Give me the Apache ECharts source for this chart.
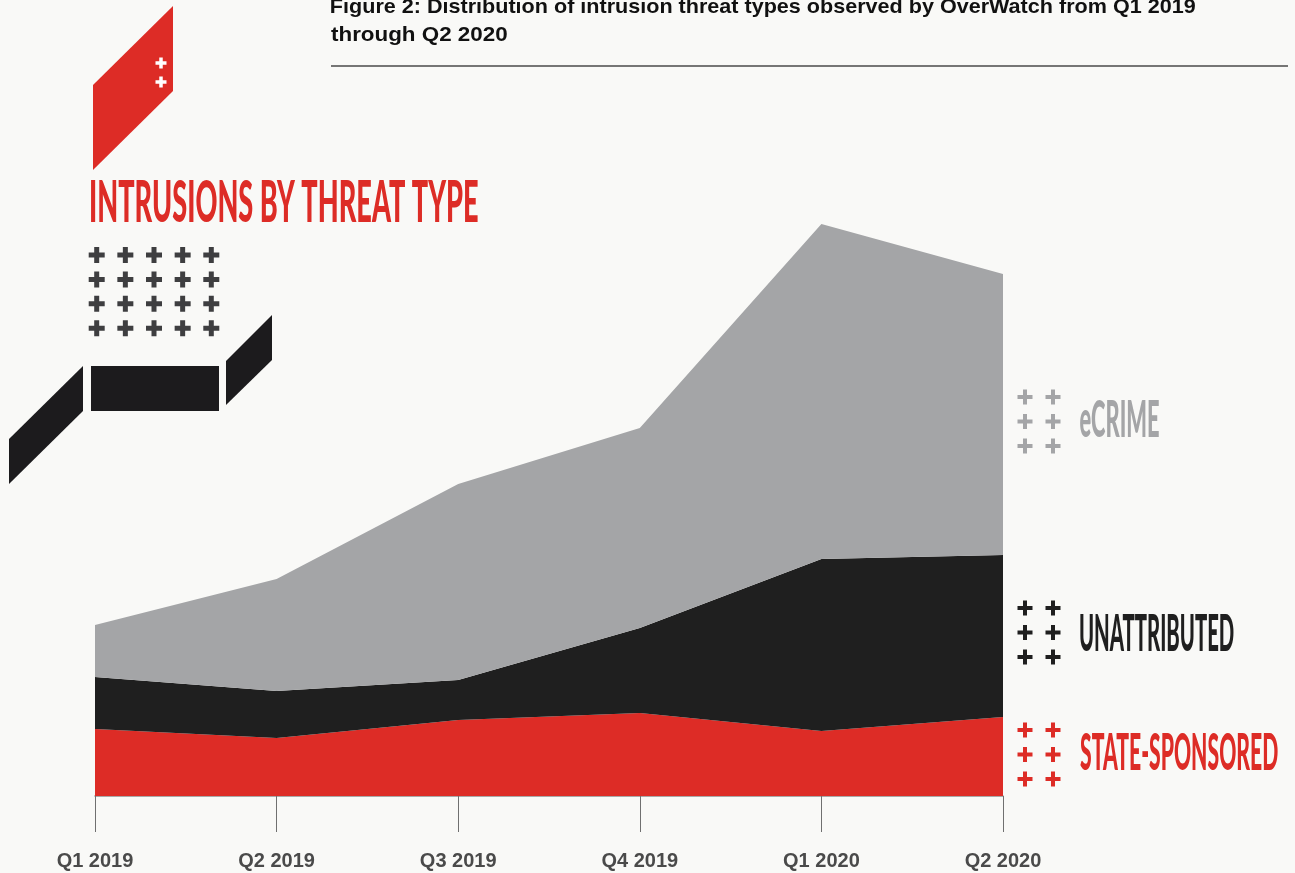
<!DOCTYPE html>
<html>
<head>
<meta charset="utf-8">
<script src="https://cdn.jsdelivr.net/npm/echarts@6/dist/echarts.min.js"></script>
<style>
  html, body { margin: 0; padding: 0; background: #f9f9f7; }
  #chart { width: 1295px; height: 873px; }
</style>
</head>
<body>
<div id="chart"></div>
<script>
// Quarterly intrusion counts by threat type (stacked)
const categories = ['Q1 2019', 'Q2 2019', 'Q3 2019', 'Q4 2019', 'Q1 2020', 'Q2 2020'];
const stateSponsored = [67, 58, 76, 83, 65, 79];
const unattributed = [52, 47, 40, 85, 172, 162];
const eCrime = [52, 112, 196, 200, 335, 281];
const seriesNames = ['STATE-SPONSORED', 'UNATTRIBUTED', 'eCRIME'];

const titleText = 'INTRUSIONS BY THREAT TYPE';
const captionLines = [
  'Figure 2: Distribution of intrusion threat types observed by OverWatch from Q1 2019',
  'through Q2 2020'
];

const RED = '#dd2c26';
const BLACK = '#1f1f1f';
const GREY = '#a4a5a7';

// Fit a single-line text into a box defined by its ink left edge, width,
// cap-height top and cap height, using canvas metrics for the given font.
const measureCtx = document.createElement('canvas').getContext('2d');
function fitText(text, font, left, width, capTop, capHeight, color, opts) {
  measureCtx.font = font;
  measureCtx.textBaseline = 'middle';
  measureCtx.textAlign = 'left';
  const m = measureCtx.measureText(text);
  const h = measureCtx.measureText('H');
  const inkW = m.actualBoundingBoxRight + m.actualBoundingBoxLeft;
  const capInk = h.actualBoundingBoxAscent + h.actualBoundingBoxDescent;
  const sx = width / inkW;
  const sy = capHeight / capInk;
  return Object.assign({
    type: 'text',
    x: left + m.actualBoundingBoxLeft * sx,
    y: capTop + h.actualBoundingBoxAscent * sy,
    scaleX: sx,
    scaleY: sy,
    silent: true,
    style: { text: text, font: font, fill: color, align: 'left', verticalAlign: 'middle' }
  }, opts || {});
}

// Plus-sign glyph as a polygon
function cross(cx, cy, size, t, color) {
  const a = size / 2, b = t / 2;
  return {
    type: 'polygon', silent: true,
    shape: { points: [
      [cx - b, cy - a], [cx + b, cy - a], [cx + b, cy - b], [cx + a, cy - b],
      [cx + a, cy + b], [cx + b, cy + b], [cx + b, cy + a], [cx - b, cy + a],
      [cx - b, cy + b], [cx - a, cy + b], [cx - a, cy - b], [cx - b, cy - b]
    ] },
    style: { fill: color }
  };
}

function crossGrid(x0, y0, cols, rows, dx, dy, size, t, color) {
  const out = [];
  for (let r = 0; r < rows; r++)
    for (let c = 0; c < cols; c++)
      out.push(cross(x0 + c * dx, y0 + r * dy, size, t, color));
  return out;
}

const displayFont = '900 40px Lato';
const captionFont = 'bold 19px "Liberation Sans"';

const graphics = [
  // red ribbon mark
  { type: 'polygon', silent: true,
    shape: { points: [[93, 85], [173, 6], [173, 91], [93, 170]] },
    style: { fill: RED } },
  cross(161, 63, 11, 3.5, '#ffffff'),
  cross(161, 82, 11, 3.5, '#ffffff'),
  // black stepped band
  { type: 'polygon', silent: true,
    shape: { points: [[9, 439], [83, 366], [83, 411], [9, 484]] },
    style: { fill: '#1c1b1d' } },
  { type: 'rect', silent: true,
    shape: { x: 91, y: 366, width: 128, height: 45 },
    style: { fill: '#1c1b1d' } },
  { type: 'polygon', silent: true,
    shape: { points: [[226, 361], [272, 315], [272, 360], [226, 405]] },
    style: { fill: '#1c1b1d' } },
  // caption rule
  { type: 'line', silent: true,
    shape: { x1: 331, y1: 66, x2: 1288, y2: 66 },
    style: { stroke: '#4a4a4a', lineWidth: 1.5 } },
  fitText(titleText, displayFont, 91, 387, 180, 42, RED),
  fitText(captionLines[0], captionFont, 331, 864, -1, 13.5, '#111111'),
  fitText(captionLines[1], captionFont, 331, 176, 27, 13.5, '#111111'),
  fitText(seriesNames[2], displayFont, 1080, 79, 400, 37, GREY),
  fitText(seriesNames[1], displayFont, 1080, 154, 613, 37.5, BLACK),
  fitText(seriesNames[0], displayFont, 1080, 198, 733, 37, RED)
]
  .concat(crossGrid(96.7, 255, 5, 4, 28.65, 24.4, 16, 5, '#3e3e40'))
  .concat(crossGrid(1025, 397, 2, 3, 28, 24.5, 15, 4, GREY))
  .concat(crossGrid(1025, 608, 2, 3, 28, 24.5, 15, 4, BLACK))
  .concat(crossGrid(1025, 730, 2, 3, 28, 24.5, 15, 4, RED));

function areaSeries(name, data, color) {
  return {
    name: name,
    type: 'line',
    stack: 'total',
    data: data,
    symbol: 'none',
    lineStyle: { width: 0 },
    areaStyle: { color: color, opacity: 1 },
    itemStyle: { color: color },
    emphasis: { disabled: true },
    silent: true
  };
}

const chart = echarts.init(document.getElementById('chart'), null, { renderer: 'canvas' });
chart.setOption({
  backgroundColor: '#f9f9f7',
  animation: false,
  grid: { left: 95, right: 292, top: 196, bottom: 77 },
  xAxis: {
    type: 'category',
    data: categories,
    boundaryGap: false,
    axisLine: { lineStyle: { color: '#8e8e8e', width: 1.5 } },
    axisTick: { length: 36, lineStyle: { color: '#707070', width: 1 } },
    axisLabel: {
      margin: 55,
      fontFamily: 'Liberation Sans',
      fontWeight: 'bold',
      fontSize: 20,
      color: '#4a4a4a'
    }
  },
  yAxis: { type: 'value', min: 0, max: 600, show: false },
  series: [
    areaSeries(seriesNames[0], stateSponsored, RED),
    areaSeries(seriesNames[1], unattributed, BLACK),
    areaSeries(seriesNames[2], eCrime, GREY)
  ],
  graphic: graphics
});
</script>
</body>
</html>
